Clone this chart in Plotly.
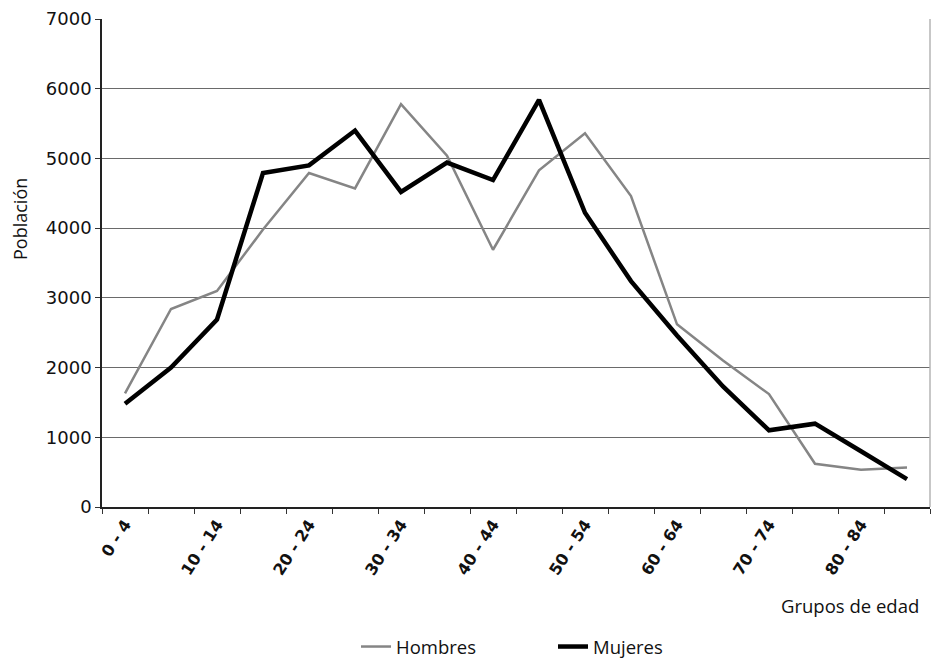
import plotly.graph_objects as go

categories = ["0 - 4", "5 - 9", "10 - 14", "15 - 19", "20 - 24", "25 - 29", "30 - 34",
              "35 - 39", "40 - 44", "45 - 49", "50 - 54", "55 - 59", "60 - 64",
              "65 - 69", "70 - 74", "75 - 79", "80 - 84", "85 +"]
hombres = [1630, 2840, 3100, 3980, 4790, 4570, 5780, 5040, 3690, 4830, 5360,
           4460, 2620, 2100, 1620, 620, 535, 565]
mujeres = [1480, 2000, 2690, 4790, 4900, 5400, 4520, 4940, 4690, 5840, 4220,
           3240, 2460, 1730, 1100, 1195, 800, 400]
tick_text = [c if i % 2 == 0 else "" for i, c in enumerate(categories)]
y_ticks = [0, 1000, 2000, 3000, 4000, 5000, 6000, 7000]

fig = go.Figure()
fig.add_trace(go.Scatter(x=categories, y=hombres, mode="lines", name="Hombres",
                         line=dict(color="#858585", width=2.5)))
fig.add_trace(go.Scatter(x=categories, y=mujeres, mode="lines", name="Mujeres",
                         line=dict(color="#000000", width=4.5)))

fig.update_layout(
    width=931, height=660,
    margin=dict(l=102, r=1, t=19, b=153, autoexpand=False),
    paper_bgcolor="white", plot_bgcolor="white",
    showlegend=True,
    legend=dict(orientation="h", xref="paper", yref="paper",
                x=(356 - 102) / 828, y=-(647 - 507) / 488, xanchor="left", yanchor="middle",
                entrywidth=152, entrywidthmode="pixels",
                font=dict(family="Open Sans", size=18.5, color="#111"),
                itemwidth=30),
    xaxis=dict(type="category", tickvals=categories, ticktext=tick_text,
               range=[-0.5, len(categories) - 0.5], automargin=False,
               tickson="boundaries", ticks="outside", ticklen=5, tickcolor="#333",
               tickangle=-57, showline=True, linecolor="#222", linewidth=1.5,
               showgrid=False, zeroline=False,
               tickfont=dict(family="DejaVu Sans", size=16, color="#111", weight="bold")),
    yaxis=dict(range=[0, 7000], tickvals=y_ticks, ticks="outside", ticklen=5,
               automargin=False,
               tickcolor="#333", showline=True, linecolor="#222", linewidth=1.5,
               showgrid=True, gridcolor="#6a6a6a", gridwidth=1, zeroline=False,
               tickfont=dict(family="DejaVu Sans", size=18, color="#111")),
    shapes=[dict(type="line", xref="paper", yref="paper", x0=1, x1=1, y0=0, y1=1,
                 line=dict(color="#b5b5b5", width=1.5))],
    annotations=[
        dict(text="Población", xref="paper", yref="paper", x=0, xshift=-82,
             y=(507 - 219) / 488, textangle=-90, showarrow=False,
             xanchor="center", yanchor="middle",
             font=dict(family="Open Sans", size=18, color="#111")),
        dict(text="Grupos de edad", xref="paper", yref="paper", x=1, xshift=-9,
             y=-(605 - 507) / 488, showarrow=False, xanchor="right", yanchor="middle",
             font=dict(family="Open Sans", size=18.5, color="#111")),
    ],
)

fig.write_html("out.html", config={"responsive": False, "displayModeBar": False},
               post_script="document.body.style.margin='0';document.body.style.overflow='hidden';")
